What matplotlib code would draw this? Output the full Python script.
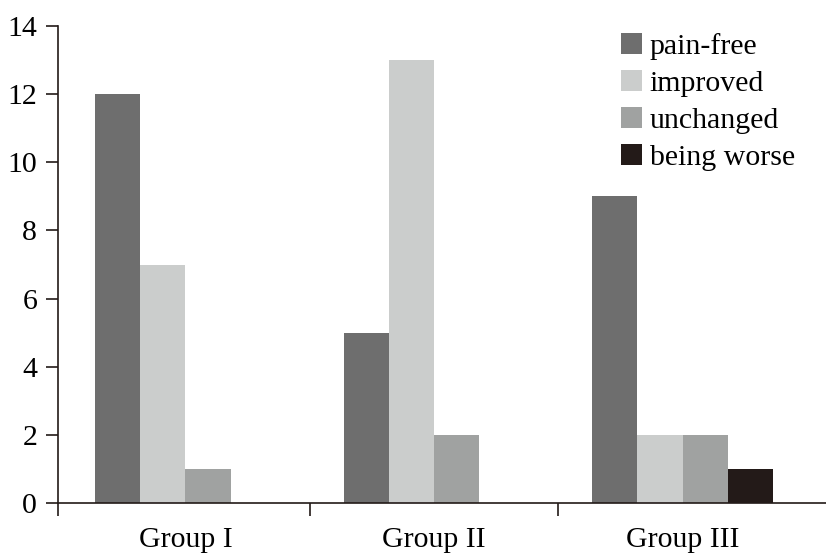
import numpy as np
import matplotlib.pyplot as plt

plt.rcParams['font.family'] = ['Liberation Serif', 'DejaVu Serif']

groups = ["Group I", "Group II", "Group III"]
series = ["pain-free", "improved", "unchanged", "being worse"]
pain_free = [12, 5, 9]
improved = [7, 13, 2]
unchanged = [1, 2, 2]
being_worse = [0, 0, 1]
colors = ["#6e6e6e", "#cbcdcc", "#a0a2a1", "#231a18"]

values = [pain_free, improved, unchanged, being_worse]

fig = plt.figure(figsize=(8.26, 5.55), dpi=100)
ax = fig.add_axes([0.0702, 0.0937, 0.9298, 0.8593])

x = np.arange(len(groups))
w = 0.182
for i, (name, vals, c) in enumerate(zip(series, values, colors)):
    ax.bar(x + (i - 1.5) * w, vals, width=w, color=c, label=name, linewidth=0)

x0 = -0.513
ax.set_xlim(x0, 2.577)
ax.set_ylim(0, 14)
ax.set_yticks(range(0, 15, 2))

# category labels in the middle, ticks on the boundaries
ax.set_xticks(x)
ax.set_xticklabels(groups)
ax.tick_params(axis='x', which='major', length=0, pad=17, labelsize=21.5)
ax.set_xticks([x0, 0.5, 1.5], minor=True)
ax.tick_params(axis='x', which='minor', length=9, width=1.2, direction='out', color='#231a18')
ax.tick_params(axis='y', length=9, width=1.2, direction='out', labelsize=21.5, pad=6, color='#231a18')

for s in ['top', 'right']:
    ax.spines[s].set_visible(False)
for s in ['left', 'bottom']:
    ax.spines[s].set_linewidth(1.2)
    ax.spines[s].set_color('#231a18')

fig.legend(loc='upper left', bbox_to_anchor=(0.752, 0.94), frameon=False,
           fontsize=21.5, handlelength=0.7, handleheight=0.7, handletextpad=0.25,
           labelspacing=0.33, borderpad=0, borderaxespad=0)

fig.savefig("out.png", dpi=100)
